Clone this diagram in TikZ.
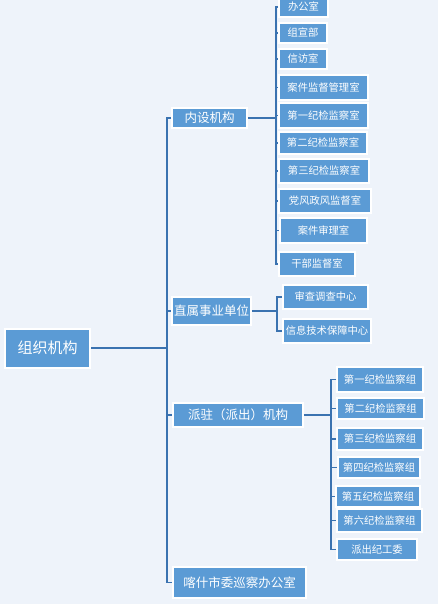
\documentclass[tikz,border=0pt]{standalone}
\usepackage{fontspec}
\setmainfont{Noto Sans CJK SC}
\definecolor{bgc}{HTML}{EEF3FA}
\definecolor{boxblue}{HTML}{5B9BD5}
\definecolor{linec}{HTML}{3A72B0}
\begin{document}
\begin{tikzpicture}[x=1pt,y=-1pt,
  box/.style={rectangle, fill=boxblue, draw=white, line width=1.6pt, text=white, inner sep=0pt, font=\fontsize{10.3}{12}\selectfont},
  lvone/.style={box, font=\fontsize{12.5}{14}\selectfont},
  rootbox/.style={box, line width=2pt, font=\fontsize{15}{18}\selectfont},
  conn/.style={draw=linec, line width=1.1pt}]
\useasboundingbox[fill=bgc] (0,0) rectangle (438,604);
% root
\node[rootbox, minimum width=85pt, minimum height=39pt] (root) at (47.5,348) {组织机构};
% level one
\node[lvone, minimum width=75pt, minimum height=20pt] (na) at (209.5,118) {内设机构};
\node[lvone, minimum width=79pt, minimum height=28pt] (nb) at (211.5,311) {直属事业单位};
\node[lvone, minimum width=130pt, minimum height=24pt] (nc) at (238,415) {派驻（派出）机构};
\node[lvone, minimum width=133pt, minimum height=31pt] (nd) at (239.5,582.5) {喀什市委巡察办公室};
% internal
\node[box, minimum width=49pt, minimum height=20pt] (a1) at (303.5,7) {办公室};
\node[box, minimum width=48pt, minimum height=20pt] (a2) at (303,33) {组宣部};
\node[box, minimum width=48pt, minimum height=20pt] (a3) at (303,59) {信访室};
\node[box, minimum width=89pt, minimum height=25pt] (a4) at (323.5,87.5) {案件监督管理室};
\node[box, minimum width=89pt, minimum height=25pt] (a5) at (323.5,115.5) {第一纪检监察室};
\node[box, minimum width=88pt, minimum height=22pt] (a6) at (323,143) {第二纪检监察室};
\node[box, minimum width=90pt, minimum height=24pt] (a7) at (324,171) {第三纪检监察室};
\node[box, minimum width=92pt, minimum height=24pt] (a8) at (325,201) {党风政风监督室};
\node[box, minimum width=87pt, minimum height=25pt] (a9) at (323.5,230.5) {案件审理室};
\node[box, minimum width=76pt, minimum height=24pt] (a10) at (317,264) {干部监督室};
% direct
\node[box, minimum width=85pt, minimum height=24pt] (b1) at (325.5,297) {审查调查中心};
\node[box, minimum width=88pt, minimum height=24pt] (b2) at (327,331) {信息技术保障中心};
% dispatched
\node[box, minimum width=86pt, minimum height=25pt] (c1) at (380,379.5) {第一纪检监察组};
\node[box, minimum width=87pt, minimum height=21pt] (c2) at (380.5,408.5) {第二纪检监察组};
\node[box, minimum width=86pt, minimum height=22pt] (c3) at (380,439) {第三纪检监察组};
\node[box, minimum width=82pt, minimum height=21pt] (c4) at (379,467.5) {第四纪检监察组};
\node[box, minimum width=84pt, minimum height=21pt] (c5) at (378,496.5) {第五纪检监察组};
\node[box, minimum width=85pt, minimum height=23pt] (c6) at (379.5,520.5) {第六纪检监察组};
\node[box, minimum width=80pt, minimum height=21pt] (c7) at (377,549.5) {派出纪工委};
% connectors
\coordinate (t) at (167,348);
\coordinate (va) at (276,118);
\coordinate (vb) at (277,311);
\coordinate (vc) at (331,415);
\draw[conn] (root.east) -- (root.east -| t);
\draw[conn] (na.west) -- (na.west -| t) -- (nd.west -| t) -- (nd.west);
\draw[conn] (nb.west -| t) -- (nb.west);
\draw[conn] (nc.west -| t) -- (nc.west);
\draw[conn] (na.east) -- (na.east -| va);
\draw[conn] (a1.west) -- (a1.west -| va) -- (a10.west -| va) -- (a10.west);
\foreach \n in {a2,a3,a4,a5,a6,a7,a8,a9}{\draw[conn] (\n.west -| va) -- (\n.west);}
\draw[conn] (nb.east) -- (nb.east -| vb);
\draw[conn] (b1.west) -- (b1.west -| vb) -- (b2.west -| vb) -- (b2.west);
\draw[conn] (nc.east) -- (nc.east -| vc);
\draw[conn] (c1.west) -- (c1.west -| vc) -- (c7.west -| vc) -- (c7.west);
\foreach \n in {c2,c3,c4,c5,c6}{\draw[conn] (\n.west -| vc) -- (\n.west);}
\end{tikzpicture}
\end{document}
